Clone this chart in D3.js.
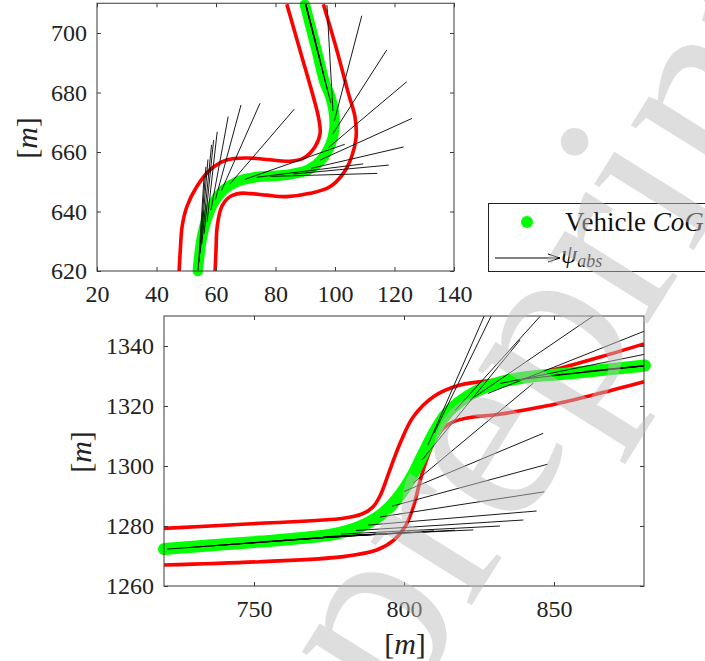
<!DOCTYPE html>
<html><head><meta charset="utf-8">
<script src="https://cdn.jsdelivr.net/npm/d3@7"></script>
<style>body{margin:0;background:#fff}svg{display:block}</style>
</head><body>
<svg id="c" width="705" height="661"></svg>
<script>
// ---------- DATA ----------
// Top panel: vehicle CoG path
const topCogX = [53.9, 54.5, 55.4, 56.9, 59.1, 62.5, 67.0, 73.7, 83.8, 91.0, 95.5, 98.5, 99.8, 99.6, 98.3, 96.6, 93.8, 89.9];
const topCogY = [620.0, 626.0, 632.0, 637.5, 642.8, 647.2, 650.0, 651.6, 652.3, 654.0, 657.5, 662.5, 668.0, 673.5, 679.0, 683.1, 694.3, 709.5];
// Top panel: road boundaries
const topLeftX = [47.6, 48.0, 48.6, 50.2, 53.5, 58.0, 63.6, 70.3, 77.0, 84.9, 89.3, 93.3, 95.0, 94.4, 92.7, 88.2, 83.8];
const topLeftY = [620, 627, 634.9, 641.6, 648.3, 654.0, 657.3, 658.0, 657.5, 656.9, 657.9, 661.8, 666.3, 671.9, 678.6, 694.3, 709.7];
const topRightX = [59.7, 60.0, 60.4, 61.9, 64.7, 68.1, 72.0, 77.0, 83.8, 91.6, 98.3, 102.8, 105.6, 107.1, 106.7, 104.5, 100.6, 96.1];
const topRightY = [620, 627, 634.9, 641.6, 645.0, 646.1, 646.0, 645.5, 645.0, 646.1, 648.3, 652.8, 658.4, 665.1, 671.9, 679.7, 694.3, 709.7];
// Top panel: heading arrows (start -> end)
const topArrSX = [54.0, 54.3, 54.7, 55.2, 56.0, 57.0, 58.3, 59.8, 61.8, 64.8, 69.7, 73.7, 78.2, 86.0, 92.0, 95.0, 97.8, 99.2, 99.8, 99.3, 98.6, 97.4, 96.2, 95.0, 93.7, 92.4, 91.1];
const topArrSY = [620.3, 623.0, 626.0, 629.0, 632.5, 636.5, 640.5, 644.0, 647.0, 649.4, 650.8, 651.5, 651.8, 652.6, 654.5, 657.3, 661.5, 666.0, 670.5, 673.8, 676.5, 681.0, 686.0, 691.0, 696.0, 701.0, 706.0];
const topArrEX = [56.0, 56.6, 57.3, 58.5, 59.2, 60.4, 64.1, 68.4, 74.8, 86.3, 103.3, 109.5, 114.2, 118.1, 123.1, 125.9, 124.1, 117.4, 109.0, 97.3, 90.4, 89.2, 88.0, 86.8, 85.5, 84.2, 82.9];
const topArrEY = [652.0, 655.0, 657.5, 662.4, 664.0, 666.8, 671.9, 675.8, 676.4, 674.4, 662.6, 656.0, 652.8, 655.6, 661.7, 671.3, 683.6, 694.3, 705.8, 709.4, 708.5, 713.0, 718.0, 723.0, 728.0, 733.0, 738.0];

// Bottom panel: vehicle CoG path
const botCogX = [720.0, 736.0, 752.0, 766.0, 777.0, 785.3, 791.0, 795.5, 799.5, 803.0, 806.4, 810.0, 813.5, 818.0, 824.2, 832.0, 840.0, 852.0, 866.0, 880.3];
const botCogY = [1272.3, 1273.6, 1274.8, 1276.0, 1277.4, 1279.8, 1282.8, 1286.6, 1291.5, 1297.2, 1304.0, 1311.0, 1316.6, 1321.0, 1325.0, 1327.9, 1329.5, 1330.6, 1332.0, 1333.5];
// Bottom panel: road boundaries
const botUpperX = [720.0, 752.0, 779.8, 786.0, 789.5, 792.0, 795.3, 798.7, 803.1, 809.8, 818.7, 835.3, 852.0, 866.0, 880.0];
const botUpperY = [1279.2, 1280.9, 1282.6, 1284.0, 1286.2, 1290.0, 1298.7, 1307.6, 1316.4, 1323.1, 1327.0, 1329.2, 1332.6, 1336.5, 1340.7];
const botLowerX = [720.0, 752.0, 779.8, 790.9, 796.5, 800.5, 803.1, 806.4, 809.8, 813.0, 816.5, 822.0, 829.8, 846.4, 863.1, 880.0];
const botLowerY = [1267.0, 1268.1, 1269.8, 1272.0, 1275.2, 1280.0, 1286.4, 1298.7, 1307.6, 1312.5, 1314.8, 1316.2, 1317.0, 1319.8, 1323.7, 1328.1];
// Bottom panel: heading arrows (start -> end)
const botArrSX = [721, 728, 736, 744, 752, 760, 767, 773, 779, 784, 788, 792, 796, 800, 803, 806, 808, 810, 817, 822, 828, 832, 840, 850, 860, 868, 876];
const botArrSY = [1272.3, 1272.8, 1273.4, 1274.0, 1274.7, 1275.3, 1275.8, 1276.4, 1277.3, 1278.5, 1280.3, 1283.0, 1286.6, 1291.5, 1294.2, 1302.0, 1307.0, 1311.0, 1318.5, 1322.0, 1324.2, 1327.5, 1329.0, 1330.3, 1331.5, 1332.3, 1333.0];
const botArrEX = [771, 778, 786, 794, 802, 810, 817, 823.1, 832, 839.8, 844.2, 846.8, 847.9, 846.4, 843.1, 838.7, 827.6, 832.0, 850, 863.5, 884, 884, 890, 900, 910, 918, 926];
const botArrEY = [1275.9, 1276.5, 1277.2, 1277.6, 1278.0, 1278.4, 1278.6, 1278.7, 1280.0, 1282.0, 1285.0, 1291.4, 1300.6, 1310.9, 1327.6, 1342.0, 1352, 1356, 1355, 1350.3, 1346.5, 1338.0, 1334.5, 1335.3, 1336.3, 1337.0, 1337.6];

// Tick values
const topXTicks = [20, 40, 60, 80, 100, 120, 140];
const topYTicks = [620, 640, 660, 680, 700];
const botXTicks = [750, 800, 850];
const botYTicks = [1260, 1280, 1300, 1320, 1340];

// Legend labels
const legendItems = ["Vehicle ", "CoG"];
const watermarkText = "preprint";

// ---------- DRAW ----------
const svg = d3.select("#c");
const FONT = "'Liberation Serif', 'Times New Roman', serif";
const AX = "#3a3a3a";

function panel(id, xs, ys, xT, yT, data) {
  const g = svg.append("g");
  const [x0, x1] = xs.range(), [y0, y1] = ys.range();
  g.append("clipPath").attr("id", id).append("rect")
    .attr("x", x0).attr("y", y1).attr("width", x1 - x0).attr("height", y0 - y1);
  const line = (X, Y) => d3.line().curve(d3.curveCatmullRom.alpha(0.5))
    .x(i => xs(X[i])).y(i => ys(Y[i]))(d3.range(X.length));
  [[data.lx, data.ly], [data.rx, data.ry]].forEach(([X, Y]) => {
    g.append("path").attr("d", line(X, Y)).attr("fill", "none")
      .attr("stroke", "#ff0000").attr("stroke-width", 3.6);
  });
  g.append("path").attr("d", line(data.cx, data.cy)).attr("fill", "none")
    .attr("stroke", "#00ff00").attr("stroke-width", data.gw)
    .attr("stroke-linecap", "round").attr("stroke-linejoin", "round");
  g.append("g").attr("clip-path", `url(#${id})`).selectAll("line")
    .data(d3.range(data.asx.length)).join("line")
    .attr("x1", i => xs(data.asx[i])).attr("y1", i => ys(data.asy[i]))
    .attr("x2", i => xs(data.aex[i])).attr("y2", i => ys(data.aey[i]))
    .attr("stroke", "#000").attr("stroke-width", 0.9);
  g.append("rect").attr("x", x0).attr("y", y1).attr("width", x1 - x0).attr("height", y0 - y1)
    .attr("fill", "none").attr("stroke", AX).attr("stroke-width", 1);
  const styleAx = sel => {
    sel.select(".domain").remove();
    sel.selectAll(".tick line").attr("stroke", AX);
    sel.selectAll("text").attr("fill", "#222").style("font-family", FONT).style("font-size", "24px");
  };
  const f = d3.format("d");
  g.append("g").attr("transform", `translate(0,${y0})`)
    .call(d3.axisBottom(xs).tickValues(xT).tickFormat(f).tickSizeInner(-4).tickSizeOuter(0).tickPadding(14)).call(styleAx);
  g.append("g").attr("transform", `translate(0,${y1})`)
    .call(d3.axisTop(xs).tickValues(xT).tickSizeInner(-4).tickSizeOuter(0).tickFormat("")).call(styleAx);
  g.append("g").attr("transform", `translate(${x0},0)`)
    .call(d3.axisLeft(ys).tickValues(yT).tickFormat(f).tickSizeInner(-4).tickSizeOuter(0).tickPadding(10)).call(styleAx);
  g.append("g").attr("transform", `translate(${x1},0)`)
    .call(d3.axisRight(ys).tickValues(yT).tickSizeInner(-4).tickSizeOuter(0).tickFormat("")).call(styleAx);
  return g;
}

function mLabel(x, y, rot) {
  const t = svg.append("text").attr("transform", `translate(${x},${y}) rotate(${rot})`)
    .attr("text-anchor", "middle").attr("dy", "0.35em")
    .style("font-family", FONT).style("font-size", "30px").attr("fill", "#222");
  t.append("tspan").text("[");
  t.append("tspan").style("font-style", "italic").text("m");
  t.append("tspan").text("]");
}

const txs = d3.scaleLinear().domain([20, 140]).range([97, 454]);
const tys = d3.scaleLinear().domain([620, 710]).range([271, 3.25]);
panel("clipTop", txs, tys, topXTicks, topYTicks, {
  lx: topLeftX, ly: topLeftY, rx: topRightX, ry: topRightY, cx: topCogX, cy: topCogY,
  asx: topArrSX, asy: topArrSY, aex: topArrEX, aey: topArrEY, gw: 10.5
});
mLabel(26, 138, -90);

const bxs = d3.scaleLinear().domain([720, 880]).range([164, 644]);
const bys = d3.scaleLinear().domain([1260, 1350]).range([586, 316]);
panel("clipBot", bxs, bys, botXTicks, botYTicks, {
  lx: botUpperX, ly: botUpperY, rx: botLowerX, ry: botLowerY, cx: botCogX, cy: botCogY,
  asx: botArrSX, asy: botArrSY, aex: botArrEX, aey: botArrEY, gw: 12
});
mLabel(80, 452, -90);
mLabel(405, 643, 0);

// legend
const lg = svg.append("g");
lg.append("rect").attr("x", 488.5).attr("y", 203.5).attr("width", 240).attr("height", 68)
  .attr("fill", "#fff").attr("stroke", "#222").attr("stroke-width", 1);
lg.append("circle").attr("cx", 527).attr("cy", 222).attr("r", 6).attr("fill", "#00ff00");
const lt = lg.append("text").attr("x", 565).attr("y", 231)
  .style("font-family", FONT).style("font-size", "27px").attr("fill", "#111");
lt.append("tspan").text(legendItems[0]);
lt.append("tspan").style("font-style", "italic").text(legendItems[1]);
lg.append("line").attr("x1", 495).attr("y1", 258).attr("x2", 560).attr("y2", 258).attr("stroke", "#000").attr("stroke-width", 1);
lg.append("path").attr("d", "M548,254L560,258L548,262").attr("fill", "none").attr("stroke", "#000").attr("stroke-width", 1);
const pt = lg.append("text").attr("x", 561).attr("y", 263)
  .style("font-family", FONT).style("font-size", "26px").attr("fill", "#111");
pt.append("tspan").style("font-style", "italic").text("ψ");
pt.append("tspan").style("font-style", "italic").style("font-size", "18px").attr("dy", 4).text("abs");

// watermark
svg.append("text").attr("transform", "translate(400,720) rotate(-58)")
  .attr("text-anchor", "start")
  .style("font-family", FONT).style("font-size", "260px")
  .attr("fill", "rgb(190,190,190)").attr("fill-opacity", 0.5).text(watermarkText);
</script>
</body></html>
